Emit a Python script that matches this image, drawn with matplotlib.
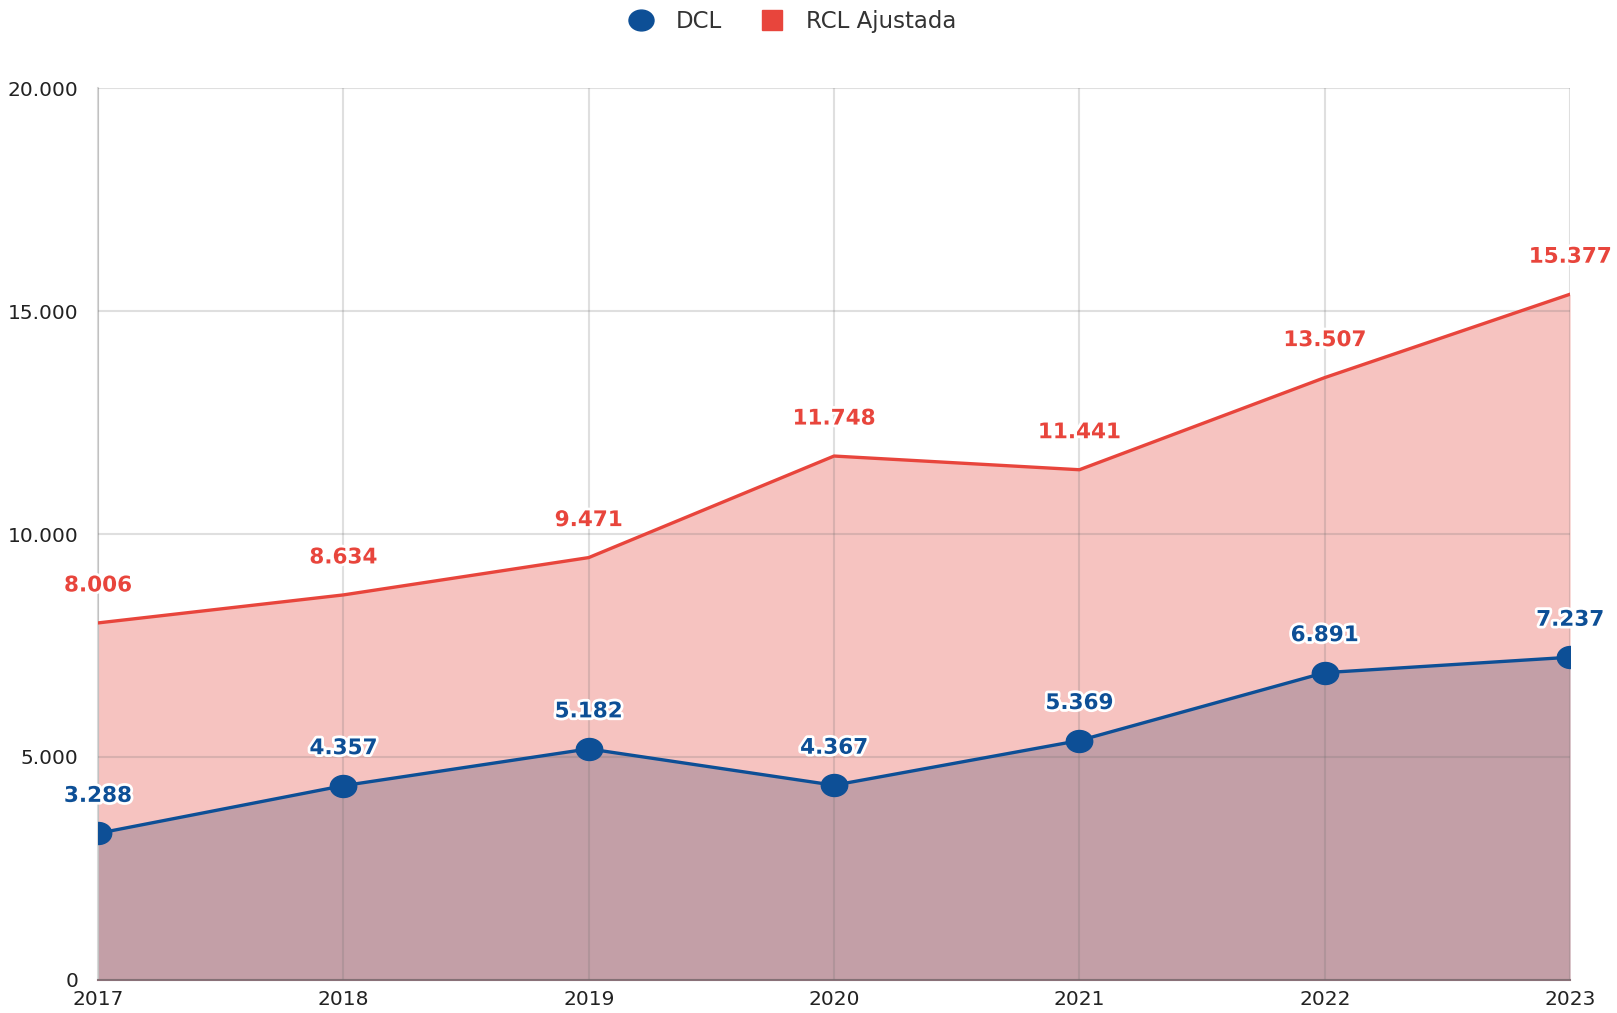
import matplotlib
matplotlib.use("Agg")
import matplotlib.pyplot as plt
import matplotlib.patheffects as pe
from matplotlib.lines import Line2D
from matplotlib.path import Path
from matplotlib.transforms import Affine2D
from matplotlib.ticker import FuncFormatter

years = [2017, 2018, 2019, 2020, 2021, 2022, 2023]
dcl = [3288, 4357, 5182, 4367, 5369, 6891, 7237]
rcl = [8006, 8634, 9471, 11748, 11441, 13507, 15377]
y_ticks = [0, 5000, 10000, 15000, 20000]

blue = "#0d4f96"
red = "#e8453c"
pink_fill = "#f6c3c0"
mauve_fill = "#c39fa7"

plt.rcParams["font.family"] = ["DejaVu Sans"]

fig = plt.figure(figsize=(16.17, 10.13), dpi=100)
ax = fig.add_axes([0.0606, 0.0326, 0.9104, 0.8805])


def fmt(v):
    return f"{int(v):,}".replace(",", ".")


# areas
ax.fill_between(years, dcl, rcl, color=pink_fill, zorder=1, lw=0)
ax.fill_between(years, 0, dcl, color=mauve_fill, zorder=1, lw=0)

# grid on top of the fills, semi-transparent
ax.set_axisbelow(False)
ax.grid(True, color="#6e6e6e", alpha=0.22, lw=1.5, zorder=2)

ellipse = Path.unit_circle().transformed(Affine2D().scale(1.2, 1.0))

ax.plot(years, rcl, color=red, lw=2.4, zorder=3)
ax.plot(years, dcl, color=blue, lw=2.4, zorder=4, marker=ellipse, ms=19,
        markerfacecolor=blue, markeredgecolor=blue)

stroke = [pe.withStroke(linewidth=4, foreground="white")]
for x, v in zip(years, rcl):
    ax.annotate(fmt(v), (x, v), xytext=(0, 27), textcoords="offset points",
                ha="center", va="center", fontsize=15.5, fontweight="bold",
                color=red, path_effects=stroke, zorder=6, annotation_clip=False)
for x, v in zip(years, dcl):
    ax.annotate(fmt(v), (x, v), xytext=(0, 27), textcoords="offset points",
                ha="center", va="center", fontsize=15.5, fontweight="bold",
                color=blue, path_effects=stroke, zorder=6, annotation_clip=False)

ax.set_xlim(2017, 2023)
ax.set_ylim(0, 20000)
ax.set_xticks(years)
ax.set_yticks(y_ticks)
ax.yaxis.set_major_formatter(FuncFormatter(lambda v, p: fmt(v)))
ax.tick_params(axis="both", length=0, labelsize=14.5, labelcolor="#222222")
ax.tick_params(axis="x", pad=7)
ax.tick_params(axis="y", pad=14)

for s in ["top", "right"]:
    ax.spines[s].set_visible(False)
ax.spines["left"].set_color("#d9d9d9")
ax.spines["left"].set_linewidth(1.5)
ax.spines["bottom"].set_color("#8a7178")
ax.spines["bottom"].set_linewidth(1.5)

handles = [
    Line2D([], [], ls="none", marker=ellipse, ms=18, color=blue, label="DCL"),
    Line2D([], [], ls="none", marker="s", ms=15, color=red, label="RCL Ajustada"),
]
fig.legend(handles=handles, loc="upper center", bbox_to_anchor=(0.487, 1.01),
           ncol=2, frameon=False, fontsize=16.5, handletextpad=0.5, columnspacing=1.2,
           labelcolor="#333333")

fig.savefig("out.png", dpi=100)
